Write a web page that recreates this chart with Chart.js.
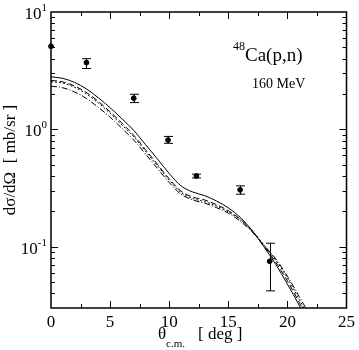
<!DOCTYPE html>
<html lang="en">
<head>
<meta charset="UTF-8">
<title>48Ca(p,n) 160 MeV</title>
<script src="https://cdn.jsdelivr.net/npm/chart.js"></script>
<style>
  html, body { margin: 0; padding: 0; background: #fff; }
</style>
</head>
<body>
<canvas id="xsec" width="359" height="350"></canvas>
<script>
  // theory curves, d sigma / d Omega [mb/sr] vs theta c.m. [deg]
  const thetaGrid = [0, 1, 2, 3, 4, 5, 6, 7, 8, 9, 10, 11, 12, 13, 14, 15, 16, 17, 18, 19, 20, 21, 22];
  const solidCurve = [2.80, 2.72, 2.51, 2.21, 1.86, 1.53, 1.23, 0.98, 0.74, 0.56, 0.42, 0.33, 0.292, 0.272, 0.245, 0.214, 0.178, 0.138, 0.100, 0.071, 0.048, 0.0316, 0.020];
  const dashCurve = [2.61, 2.54, 2.34, 2.06, 1.73, 1.41, 1.13, 0.89, 0.67, 0.505, 0.378, 0.297, 0.265, 0.25, 0.228, 0.203, 0.172, 0.137, 0.102, 0.074, 0.051, 0.0335, 0.0215];
  const dotCurve = [2.55, 2.48, 2.28, 2.00, 1.68, 1.37, 1.09, 0.865, 0.65, 0.49, 0.37, 0.29, 0.257, 0.242, 0.222, 0.198, 0.17, 0.137, 0.104, 0.077, 0.054, 0.0355, 0.023];
  const dashDotCurve = [2.33, 2.26, 2.08, 1.83, 1.54, 1.27, 1.02, 0.81, 0.615, 0.465, 0.352, 0.28, 0.25, 0.235, 0.215, 0.193, 0.165, 0.134, 0.103, 0.079, 0.056, 0.0376, 0.025];

  // measured points with error bars
  const expTheta = [0, 3, 7, 9.9, 12.3, 16, 18.5];
  const expXsec = [5.1, 3.7, 1.84, 0.81, 0.40, 0.305, 0.075];
  const expLow = [5.1, 3.3, 1.69, 0.76, 0.385, 0.28, 0.042];
  const expHigh = [5.1, 4.0, 1.99, 0.87, 0.415, 0.33, 0.107];

  const xMajor = [0, 5, 10, 15, 20, 25];
  const xMinor = [2.5, 7.5, 12.5, 17.5, 22.5];
  const yDecades = [0.1, 1, 10];
  const yDecadeExp = ['-1', '0', '1'];
  const yMinor = [0.04, 0.05, 0.06, 0.07, 0.08, 0.09, 0.2, 0.3, 0.4, 0.5, 0.6, 0.7, 0.8, 0.9, 2, 3, 4, 5, 6, 7, 8, 9];

  const serif = "'Liberation Serif', 'DejaVu Serif', serif";

  function curve(vals, dash) {
    return {
      data: thetaGrid.map((t, i) => ({ x: t, y: vals[i] })),
      borderColor: '#000',
      borderWidth: 1,
      borderDash: dash,
      pointRadius: 0,
      fill: false,
      cubicInterpolationMode: 'monotone',
      clip: 0
    };
  }

  const frame = {
    id: 'frame',
    afterDatasetsDraw(chart) {
      const { ctx, scales: { x, y } } = chart;
      ctx.save();
      ctx.strokeStyle = '#000';
      ctx.lineWidth = 1;
      expTheta.forEach((t, i) => {
        if (expLow[i] === expHigh[i]) return;
        const px = Math.round(x.getPixelForValue(t)) + 0.5;
        const lo = y.getPixelForValue(expLow[i]);
        const hi = y.getPixelForValue(expHigh[i]);
        ctx.beginPath();
        ctx.moveTo(px, lo); ctx.lineTo(px, hi);
        ctx.moveTo(px - 4.5, lo); ctx.lineTo(px + 4.5, lo);
        ctx.moveTo(px - 4.5, hi); ctx.lineTo(px + 4.5, hi);
        ctx.stroke();
      });
      ctx.restore();
    },
    afterDraw(chart) {
      const { ctx, chartArea: a, scales: { x, y } } = chart;
      ctx.save();
      ctx.strokeStyle = '#000';
      ctx.fillStyle = '#000';
      ctx.lineWidth = 1.5;
      ctx.strokeRect(a.left, a.top, a.right - a.left, a.bottom - a.top);

      ctx.lineWidth = 1;
      ctx.beginPath();
      const xt = (v, len) => {
        const px = Math.round(x.getPixelForValue(v)) + 0.5;
        ctx.moveTo(px, a.bottom); ctx.lineTo(px, a.bottom - len);
        ctx.moveTo(px, a.top); ctx.lineTo(px, a.top + len);
      };
      const yt = (v, len) => {
        const py = Math.round(y.getPixelForValue(v)) + 0.5;
        ctx.moveTo(a.left, py); ctx.lineTo(a.left + len, py);
        ctx.moveTo(a.right, py); ctx.lineTo(a.right - len, py);
      };
      xMajor.slice(1, -1).forEach(v => xt(v, 7));
      xMinor.forEach(v => xt(v, 4));
      yDecades.slice(0, -1).forEach(v => yt(v, 7));
      yMinor.forEach(v => yt(v, 4));
      ctx.stroke();

      // y tick labels 10^n
      yDecades.forEach((v, i) => {
        const py = y.getPixelForValue(v);
        ctx.font = '11px ' + serif;
        ctx.textAlign = 'right';
        ctx.textBaseline = 'alphabetic';
        const sw = ctx.measureText(yDecadeExp[i]).width;
        ctx.fillText(yDecadeExp[i], 47, py - 1);
        ctx.font = '17px ' + serif;
        ctx.fillText('10', 47 - sw, py + 7);
      });

      // y axis title
      ctx.save();
      ctx.translate(11, (a.top + a.bottom) / 2);
      ctx.rotate(-Math.PI / 2);
      ctx.font = '17px ' + serif;
      ctx.textAlign = 'center';
      ctx.textBaseline = 'middle';
      ctx.fillText('dσ/dΩ  [ mb/sr ]', 0, 0);
      ctx.restore();

      // x axis title
      ctx.textAlign = 'left';
      ctx.textBaseline = 'alphabetic';
      ctx.font = '17px ' + serif;
      ctx.fillText('θ', 158, 339);
      ctx.font = '11px ' + serif;
      ctx.fillText('c.m.', 166, 347);
      ctx.font = '17px ' + serif;
      ctx.fillText('[ deg ]', 198, 339);

      // reaction label
      ctx.font = '12px ' + serif;
      ctx.fillText('48', 233, 50);
      ctx.font = '19px ' + serif;
      ctx.fillText('Ca(p,n)', 245, 61);
      ctx.font = '14px ' + serif;
      ctx.fillText('160 MeV', 252, 88);
      ctx.restore();
    }
  };

  new Chart(document.getElementById('xsec'), {
    type: 'line',
    data: {
      datasets: [
        curve(solidCurve, []),
        curve(dashCurve, [6, 3]),
        curve(dotCurve, [2, 2]),
        curve(dashDotCurve, [6, 2, 1, 2]),
        {
          type: 'scatter',
          data: expTheta.map((t, i) => ({ x: t, y: expXsec[i] })),
          backgroundColor: '#000',
          borderColor: '#000',
          pointRadius: 2.4,
          showLine: false,
          clip: false
        }
      ]
    },
    options: {
      responsive: false,
      animation: false,
      devicePixelRatio: 1,
      layout: { padding: { top: 12, right: 10, left: 0, bottom: 0 } },
      plugins: { legend: { display: false }, tooltip: { enabled: false } },
      scales: {
        x: {
          type: 'linear',
          min: 0,
          max: 25,
          grid: { display: false, drawTicks: false },
          border: { display: false },
          ticks: { stepSize: 5, color: '#000', padding: 4, font: { family: serif, size: 17 } },
          afterFit: s => { s.height = 42; }
        },
        y: {
          type: 'logarithmic',
          min: 0.03,
          max: 10,
          grid: { display: false, drawTicks: false },
          border: { display: false },
          ticks: { display: false },
          afterFit: s => { s.width = 51; }
        }
      }
    },
    plugins: [frame]
  });
</script>
</body>
</html>
